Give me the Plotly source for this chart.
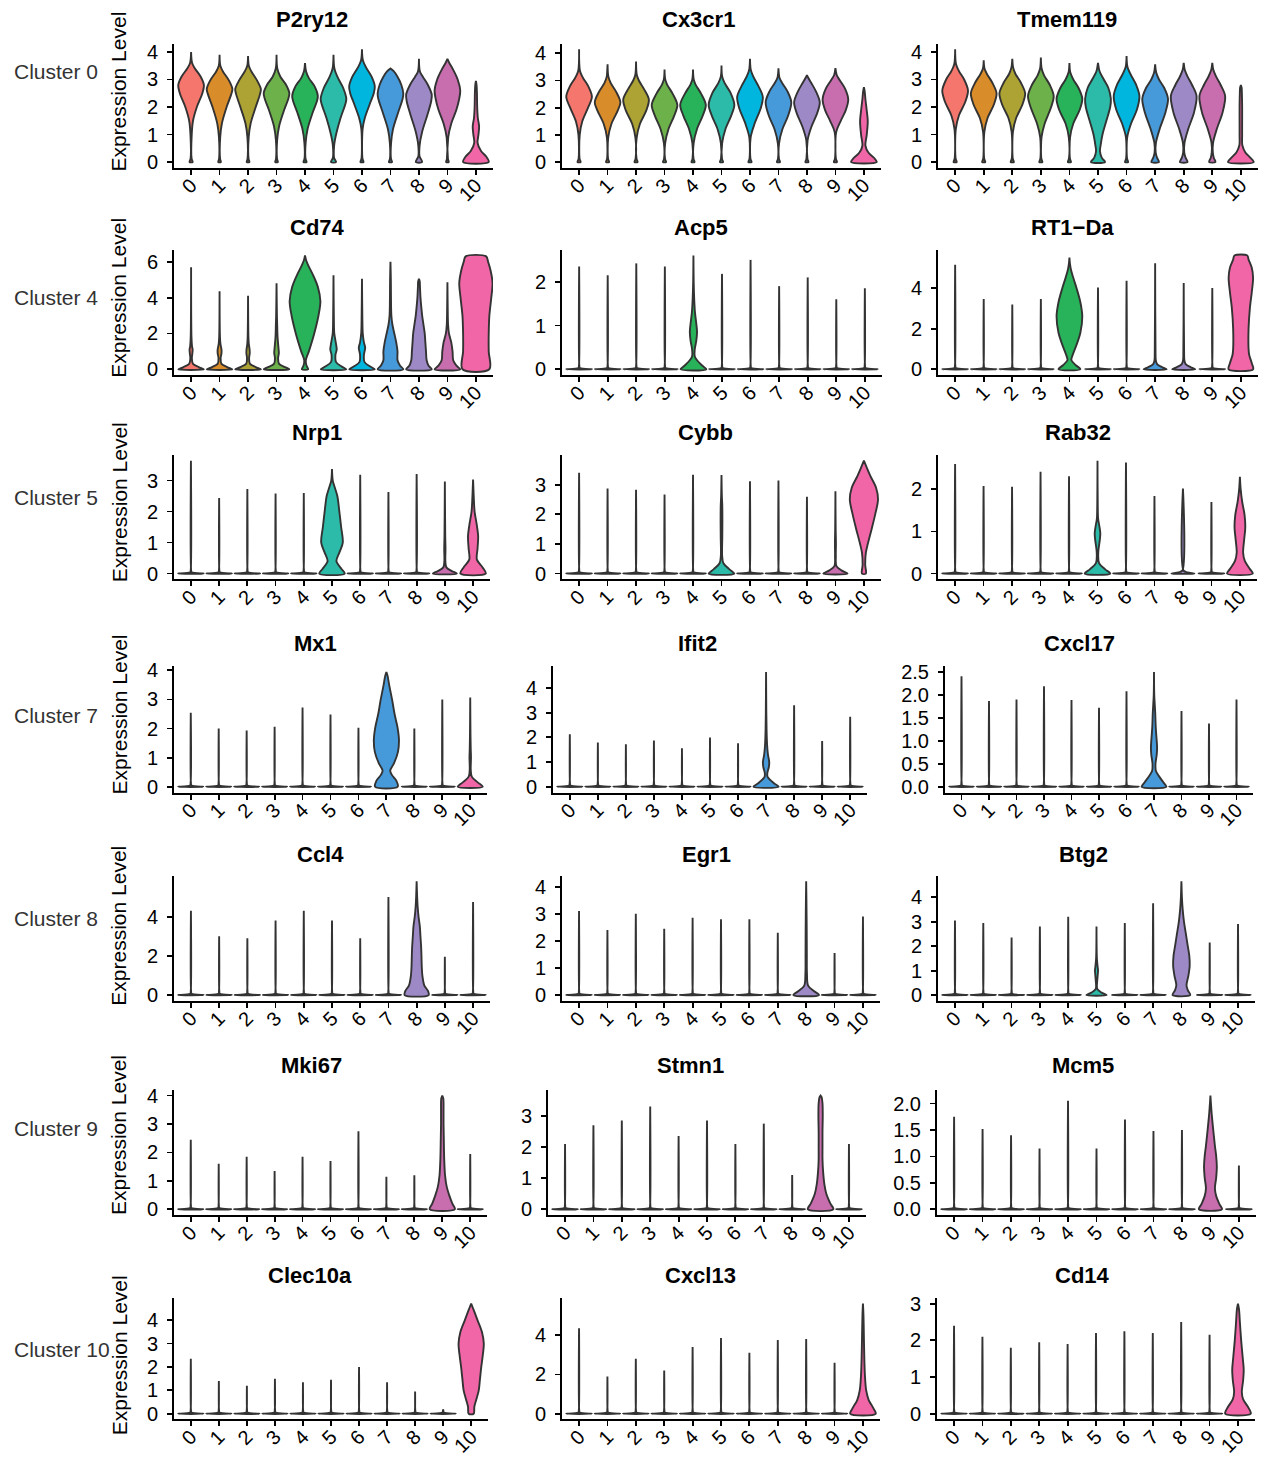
import plotly.graph_objects as go

W, H = 1262, 1458

CLUSTERS = ["0", "1", "2", "3", "4", "5", "6", "7", "8", "9", "10"]
COLORS = ["#F4766C", "#D98C2A", "#ADA334", "#6DB14A", "#28B35B", "#2BBBA8",
          "#00B6DE", "#479ADA", "#9D89C6", "#C86DAE", "#F066A6"]
ROW_LABELS = ["Cluster 0", "Cluster 4", "Cluster 5", "Cluster 7", "Cluster 8", "Cluster 9", "Cluster 10"]

# ---- per-gene data: violin tops, shaped-violin density profiles (y, relative width), tick labels ----
P2RY12_TOP = [4.0, 3.9, 3.85, 3.9, 3.6, 3.9, 4.1, 3.4, 3.75, 3.75, 2.95]
P2RY12_SHAPE = {
    0: [0, .12, .12, .04, 1.0, .05, 1.5, .15, 2.0, .45, 2.5, .88, 2.8, 1.0, 3.1, .75, 3.4, .3, 3.6, .08],
    1: [0, .1, .12, .04, 0.9, .05, 1.4, .18, 2.0, .55, 2.45, .9, 2.65, 1.0, 2.95, .75, 3.3, .25, 3.5, .06],
    2: [0, .1, .12, .04, 0.9, .05, 1.4, .2, 2.0, .6, 2.45, .92, 2.65, 1.0, 2.95, .72, 3.3, .25, 3.5, .06],
    3: [0, .1, .12, .04, 0.8, .05, 1.3, .2, 1.9, .6, 2.3, .92, 2.5, 1.0, 2.8, .75, 3.1, .3, 3.4, .06],
    4: [0, .12, .12, .04, 0.7, .05, 1.2, .2, 1.8, .6, 2.2, .92, 2.4, 1.0, 2.75, .75, 3.05, .3, 3.3, .08],
    5: [0, .2, .15, .05, 0.6, .05, 1.0, .2, 1.6, .55, 2.1, .92, 2.3, 1.0, 2.7, .75, 3.1, .3, 3.4, .07],
    6: [0, .12, .12, .04, 1.2, .05, 1.6, .22, 2.1, .6, 2.5, .92, 2.75, 1.0, 3.1, .75, 3.45, .3, 3.7, .07],
    7: [0, .12, .12, .04, 0.7, .05, 1.2, .2, 1.8, .6, 2.3, .95, 2.5, 1.0, 2.8, .85, 3.1, .55, 3.3, .25],
    8: [0, .25, .2, .05, 0.6, .05, 1.1, .25, 1.7, .65, 2.2, .95, 2.45, 1.0, 2.8, .7, 3.1, .3, 3.3, .07],
    9: [0, .1, .12, .04, 0.9, .06, 1.4, .3, 1.9, .7, 2.3, .92, 2.6, 1.0, 3.0, .8, 3.35, .45, 3.6, .15],
    10: [0, 1.0, .2, .8, .4, .4, .7, .13, 1.0, .2, 1.3, .25, 1.6, .15, 2.0, .1, 2.5, .08, 2.8, .05],
}
P2RY12_TICKS = ["0", "1", "2", "3", "4"]

CX3CR1_TOP = [4.15, 3.6, 3.7, 3.4, 3.4, 3.55, 3.8, 3.45, 3.2, 3.45, 2.75]
CX3CR1_SHAPE = {
    0: [0, .12, .12, .04, 1.0, .05, 1.5, .25, 2.0, .7, 2.4, 1.0, 2.8, .7, 3.1, .3, 3.35, .07],
    1: [0, .12, .12, .04, 0.9, .05, 1.4, .3, 1.9, .8, 2.2, 1.0, 2.6, .65, 2.9, .25, 3.15, .06],
    2: [0, .12, .12, .04, 0.9, .05, 1.4, .3, 1.9, .8, 2.3, 1.0, 2.7, .6, 3.0, .22, 3.2, .06],
    3: [0, .12, .12, .04, 0.7, .05, 1.2, .3, 1.7, .75, 2.1, 1.0, 2.5, .65, 2.85, .2, 3.05, .05],
    4: [0, .12, .12, .04, 0.7, .05, 1.2, .3, 1.7, .75, 2.1, 1.0, 2.5, .65, 2.85, .2, 3.05, .05],
    5: [0, .12, .12, .04, 0.7, .05, 1.2, .3, 1.7, .75, 2.1, 1.0, 2.55, .7, 2.9, .25, 3.15, .05],
    6: [0, .12, .12, .04, 0.9, .05, 1.4, .35, 2.0, .85, 2.4, 1.0, 2.8, .65, 3.15, .25, 3.4, .06],
    7: [0, .12, .12, .04, 0.7, .05, 1.2, .3, 1.7, .75, 2.2, 1.0, 2.6, .7, 2.9, .3, 3.1, .08],
    8: [0, .12, .12, .04, 0.8, .05, 1.3, .35, 1.8, .8, 2.2, 1.0, 2.6, .7, 2.9, .35, 3.1, .1],
    9: [0, .12, .12, .04, 1.1, .06, 1.5, .4, 1.9, .8, 2.3, 1.0, 2.7, .75, 3.0, .35, 3.2, .1],
    10: [0, 1.0, .15, .8, .35, .35, .6, .12, 1.0, .22, 1.5, .3, 1.9, .22, 2.3, .12, 2.6, .06],
}
CX3CR1_TICKS = ["0", "1", "2", "3", "4"]

TMEM119_TOP = [4.1, 3.7, 3.75, 3.8, 3.6, 3.6, 3.85, 3.55, 3.6, 3.6, 2.8]
TMEM119_SHAPE = {
    0: [0, .12, .12, .04, 1.2, .05, 1.7, .3, 2.2, .8, 2.6, 1.0, 3.0, .7, 3.3, .3, 3.55, .07],
    1: [0, .12, .12, .04, 1.1, .05, 1.6, .3, 2.1, .8, 2.5, 1.0, 2.9, .65, 3.2, .25, 3.4, .06],
    2: [0, .12, .12, .04, 1.1, .05, 1.6, .3, 2.1, .8, 2.5, 1.0, 2.9, .65, 3.2, .25, 3.45, .06],
    3: [0, .12, .12, .04, 0.9, .05, 1.4, .3, 2.0, .8, 2.4, 1.0, 2.8, .7, 3.15, .25, 3.4, .06],
    4: [0, .12, .12, .04, 0.9, .05, 1.4, .3, 1.9, .8, 2.3, 1.0, 2.7, .7, 3.0, .3, 3.25, .07],
    5: [0, .55, .15, .3, .4, .15, .6, .2, 1.0, .35, 1.5, .65, 2.0, .95, 2.3, 1.0, 2.7, .8, 3.0, .45, 3.3, .12],
    6: [0, .12, .12, .04, 0.9, .05, 1.4, .35, 1.9, .8, 2.4, 1.0, 2.8, .75, 3.2, .3, 3.45, .07],
    7: [0, .3, .15, .15, .35, .04, 0.7, .06, 1.2, .35, 1.8, .8, 2.3, 1.0, 2.7, .7, 3.0, .3, 3.25, .08],
    8: [0, .3, .15, .15, .35, .04, 0.7, .06, 1.2, .35, 1.8, .8, 2.4, 1.0, 2.8, .65, 3.1, .3, 3.35, .08],
    9: [0, .25, .15, .12, .35, .04, 0.7, .06, 1.2, .35, 1.8, .8, 2.4, 1.0, 2.8, .65, 3.1, .3, 3.35, .08],
    10: [0, 1.0, .15, .75, .35, .35, .6, .12, 1.0, .1, 1.5, .1, 2.0, .1, 2.5, .08, 2.7, .06],
}
TMEM119_TICKS = ["0", "1", "2", "3", "4"]

CD74_TOP = [5.7, 4.35, 4.1, 4.8, 6.35, 5.25, 5.05, 6.0, 5.05, 4.85, 6.3]
CD74_SHAPE = {
    0: [0, 1.0, .12, .6, .3, .15, .6, .06, .9, .1, 1.1, .12, 1.3, .07, 1.8, .03],
    1: [0, 1.0, .12, .6, .3, .15, .6, .08, .9, .15, 1.1, .15, 1.4, .07, 1.8, .03],
    2: [0, 1.0, .12, .6, .3, .15, .6, .08, .9, .13, 1.1, .12, 1.4, .06, 1.8, .03],
    3: [0, 1.0, .12, .65, .3, .2, .6, .12, .9, .18, 1.2, .15, 1.8, .08, 2.5, .05, 3.0, .03],
    4: [0, .25, .2, .12, .5, .06, 1.0, .3, 2.0, .72, 3.0, 1.05, 3.8, 1.2, 4.6, 1.0, 5.3, .6, 5.8, .25, 6.1, .08],
    5: [0, 1.0, .15, .65, .4, .2, .8, .15, 1.1, .25, 1.4, .2, 2.0, .06, 2.8, .03],
    6: [0, 1.0, .15, .65, .4, .2, .8, .15, 1.2, .25, 1.5, .15, 2.0, .06, 2.8, .03],
    7: [0, 1.0, .2, .75, .5, .55, 1.0, .55, 1.5, .45, 2.0, .3, 2.5, .15, 3.0, .07, 4.0, .04, 5.0, .03],
    8: [0, 1.0, .2, .75, .5, .6, 1.0, .55, 1.5, .5, 2.0, .45, 2.5, .35, 3.0, .25, 3.5, .18, 4.0, .12, 4.6, .08, 4.9, .06],
    9: [0, 1.0, .2, .7, .5, .45, 1.0, .4, 1.5, .3, 2.0, .12, 2.5, .05, 3.0, .03],
    10: [0, 1.05, 1.0, 1.0, 2.0, 1.0, 3.0, 1.05, 4.0, 1.2, 4.8, 1.3, 5.5, 1.15, 6.0, .95, 6.3, .8],
}
CD74_TICKS = ["0", "2", "4", "6"]

ACP5_TOP = [2.35, 2.15, 2.42, 2.35, 2.6, 2.18, 2.5, 1.9, 2.1, 1.6, 1.85]
ACP5_SHAPE = {
    4: [0, 1.0, .08, .7, .2, .3, .3, .1, .45, .1, .65, .22, .85, .28, 1.05, .22, 1.3, .12, 1.6, .06, 2.0, .02],
}
ACP5_TICKS = ["0", "1", "2"]

RT1DA_TOP = [5.14, 3.46, 3.19, 3.46, 5.5, 4.03, 4.36, 5.22, 4.25, 4.0, 5.6]
RT1DA_SHAPE = {
    4: [0, .85, .2, .5, .45, .15, .7, .25, 1.2, .55, 1.8, .85, 2.6, 1.0, 3.3, .85, 4.0, .55, 4.5, .3, 4.9, .12, 5.2, .04],
    7: [0, .9, .1, .55, .25, .15, .45, .05, .8, .03],
    8: [0, .9, .1, .55, .25, .15, .45, .05, .8, .03],
    10: [0, .95, .3, .85, .7, .65, 1.0, .6, 2.0, .6, 3.0, .7, 3.8, .85, 4.5, .95, 5.0, .85, 5.4, .6, 5.6, .5],
}
RT1DA_TICKS = ["0", "2", "4"]

NRP1_TOP = [3.64, 2.44, 2.73, 2.58, 2.6, 3.37, 3.19, 2.63, 3.21, 2.97, 3.03]
NRP1_SHAPE = {
    5: [0, 1.0, .15, .75, .4, .35, .7, .6, 1.0, .85, 1.5, .72, 2.0, .58, 2.5, .42, 2.8, .2, 3.0, .06],
    9: [0, .95, .08, .55, .2, .12, .4, .04, .8, .05, 1.2, .03],
    10: [0, 1.0, .2, .75, .45, .3, .8, .35, 1.2, .4, 1.6, .28, 2.0, .12, 2.5, .05],
}
NRP1_TICKS = ["0", "1", "2", "3"]

CYBB_TOP = [3.4, 2.87, 2.83, 2.67, 3.34, 3.33, 3.12, 3.14, 2.59, 2.78, 3.81]
CYBB_SHAPE = {
    5: [0, 1.0, .15, .6, .35, .15, .6, .05, 1.2, .06, 1.8, .07, 2.3, .06, 2.6, .03],
    9: [0, .95, .1, .5, .25, .08, .6, .03, 1.0, .04, 1.5, .02],
    10: [0, .15, .3, .1, .7, .15, 1.0, .3, 1.5, .6, 2.0, .88, 2.5, 1.1, 2.9, .95, 3.3, .5, 3.6, .2],
}
CYBB_TICKS = ["0", "1", "2", "3"]

RAB32_TOP = [2.6, 2.08, 2.06, 2.42, 2.31, 2.68, 2.64, 1.84, 2.02, 1.70, 2.30]
RAB32_SHAPE = {
    5: [0, 1.0, .1, .6, .25, .12, .5, .06, .8, .18, .95, .22, 1.1, .16, 1.3, .05, 1.6, .02],
    8: [0, .9, .03, .35, .07, .05],
    10: [0, 1.0, .1, .8, .3, .38, .5, .25, .8, .33, 1.1, .42, 1.4, .36, 1.7, .18, 2.0, .06],
}
RAB32_TICKS = ["0", "1", "2"]

MX1_TOP = [2.54, 2.0, 1.93, 2.06, 2.72, 2.48, 2.03, 3.94, 2.0, 3.0, 3.07]
MX1_SHAPE = {
    7: [0, .9, .2, .8, .4, .45, .55, .3, .8, .6, 1.2, .92, 1.6, 1.0, 2.0, .9, 2.5, .65, 3.0, .45, 3.5, .22, 3.8, .1],
    10: [0, 1.0, .15, .6, .35, .12, .6, .04, 1.0, .06, 1.3, .04, 1.8, .02],
}
MX1_TICKS = ["0", "1", "2", "3", "4"]

IFIT2_TOP = [2.12, 1.79, 1.72, 1.87, 1.56, 1.99, 1.76, 4.64, 3.3, 1.85, 2.83]
IFIT2_SHAPE = {
    7: [0, 1.0, .15, .6, .4, .12, .55, .1, .8, .22, 1.0, .25, 1.3, .15, 1.7, .08, 2.3, .04, 3.0, .02],
}
IFIT2_TICKS = ["0", "1", "2", "3", "4"]

CXCL17_TOP = [2.41, 1.87, 1.9, 2.19, 1.89, 1.72, 2.08, 2.5, 1.65, 1.38, 1.9]
CXCL17_SHAPE = {
    7: [0, 1.0, .1, .75, .25, .35, .35, .15, .5, .12, .7, .22, .85, .25, 1.0, .22, 1.3, .14, 1.6, .1, 1.8, .06, 2.0, .02],
}
CXCL17_TICKS = ["0.0", "0.5", "1.0", "1.5", "2.0", "2.5"]

CCL4_TOP = [4.3, 3.0, 2.9, 3.8, 4.3, 3.8, 2.9, 5.0, 5.8, 1.95, 4.75]
CCL4_SHAPE = {
    8: [0, .95, .2, .9, .5, .6, 1.0, .45, 1.5, .4, 2.0, .38, 2.5, .35, 3.0, .3, 3.5, .25, 4.0, .15, 4.5, .08, 5.0, .04],
}
CCL4_TICKS = ["0", "2", "4"]

EGR1_TOP = [3.1, 2.4, 3.0, 2.45, 2.85, 2.8, 2.8, 2.3, 4.2, 1.55, 2.9]
EGR1_SHAPE = {
    8: [0, 1.0, .15, .6, .35, .15, .8, .06, 1.5, .05, 2.5, .04, 3.5, .02],
}
EGR1_TICKS = ["0", "1", "2", "3", "4"]

BTG2_TOP = [3.05, 2.95, 2.35, 2.8, 3.2, 2.8, 2.95, 3.75, 4.65, 2.15, 2.9]
BTG2_SHAPE = {
    5: [0, .8, .1, .4, .25, .06, .6, .06, .85, .1, 1.0, .12, 1.2, .08, 1.5, .03],
    8: [0, .7, .2, .5, .4, .4, .8, .55, 1.2, .65, 1.6, .62, 2.0, .5, 2.5, .35, 3.0, .2, 3.5, .1, 4.0, .04],
}
BTG2_TICKS = ["0", "1", "2", "3", "4"]

MKI67_TOP = [2.45, 1.6, 1.85, 1.35, 1.85, 1.7, 2.75, 1.15, 1.2, 4.0, 1.95]
MKI67_SHAPE = {
    9: [0, 1.0, .2, .8, .5, .55, .8, .35, 1.2, .22, 1.8, .15, 2.5, .12, 3.0, .1, 3.5, .1, 3.9, .08],
}
MKI67_TICKS = ["0", "1", "2", "3", "4"]

STMN1_TOP = [2.1, 2.7, 2.85, 3.3, 2.35, 2.85, 2.1, 2.75, 1.1, 3.65, 2.1]
STMN1_SHAPE = {
    9: [0, 1.0, .2, .75, .5, .45, .8, .3, 1.2, .2, 1.6, .15, 2.0, .15, 2.5, .15, 3.0, .17, 3.4, .15, 3.6, .08],
}
STMN1_TICKS = ["0", "1", "2", "3"]

MCM5_TOP = [1.75, 1.52, 1.4, 1.15, 2.05, 1.15, 1.7, 1.48, 1.5, 2.15, 0.83]
MCM5_SHAPE = {
    9: [0, .9, .1, .7, .25, .45, .4, .35, .6, .45, .8, .5, 1.0, .45, 1.2, .35, 1.5, .22, 1.8, .1, 2.0, .04],
}
MCM5_TICKS = ["0.0", "0.5", "1.0", "1.5", "2.0"]

CLEC10A_TOP = [2.35, 1.4, 1.2, 1.5, 1.35, 1.45, 2.0, 1.35, 0.95, 0.02, 4.7]
CLEC10A_SHAPE = {
    10: [0, .2, .3, .25, .6, .4, 1.0, .6, 1.5, .7, 2.0, .8, 2.5, .92, 3.0, 1.0, 3.5, .85, 4.0, .5, 4.4, .22],
}
CLEC10A_TICKS = ["0", "1", "2", "3", "4"]

CXCL13_TOP = [4.35, 1.9, 2.8, 2.2, 3.4, 3.85, 3.1, 3.75, 3.8, 2.6, 5.6]
CXCL13_SHAPE = {
    10: [0, 1.0, .3, .8, .7, .45, 1.2, .25, 2.0, .15, 3.0, .1, 4.0, .07, 5.0, .04],
}
CXCL13_TICKS = ["0", "2", "4"]

CD14_TOP = [2.4, 2.1, 1.8, 1.95, 1.9, 2.2, 2.25, 2.2, 2.5, 2.15, 3.0]
CD14_SHAPE = {
    10: [0, 1.0, .15, .85, .4, .4, .6, .3, .9, .4, 1.2, .45, 1.5, .38, 2.0, .25, 2.5, .15, 2.85, .08],
}
CD14_TICKS = ["0", "1", "2", "3"]

PANELS = [
    [("P2ry12", P2RY12_TOP, P2RY12_SHAPE, P2RY12_TICKS),
     ("Cx3cr1", CX3CR1_TOP, CX3CR1_SHAPE, CX3CR1_TICKS),
     ("Tmem119", TMEM119_TOP, TMEM119_SHAPE, TMEM119_TICKS)],
    [("Cd74", CD74_TOP, CD74_SHAPE, CD74_TICKS),
     ("Acp5", ACP5_TOP, ACP5_SHAPE, ACP5_TICKS),
     ("RT1\u2212Da", RT1DA_TOP, RT1DA_SHAPE, RT1DA_TICKS)],
    [("Nrp1", NRP1_TOP, NRP1_SHAPE, NRP1_TICKS),
     ("Cybb", CYBB_TOP, CYBB_SHAPE, CYBB_TICKS),
     ("Rab32", RAB32_TOP, RAB32_SHAPE, RAB32_TICKS)],
    [("Mx1", MX1_TOP, MX1_SHAPE, MX1_TICKS),
     ("Ifit2", IFIT2_TOP, IFIT2_SHAPE, IFIT2_TICKS),
     ("Cxcl17", CXCL17_TOP, CXCL17_SHAPE, CXCL17_TICKS)],
    [("Ccl4", CCL4_TOP, CCL4_SHAPE, CCL4_TICKS),
     ("Egr1", EGR1_TOP, EGR1_SHAPE, EGR1_TICKS),
     ("Btg2", BTG2_TOP, BTG2_SHAPE, BTG2_TICKS)],
    [("Mki67", MKI67_TOP, MKI67_SHAPE, MKI67_TICKS),
     ("Stmn1", STMN1_TOP, STMN1_SHAPE, STMN1_TICKS),
     ("Mcm5", MCM5_TOP, MCM5_SHAPE, MCM5_TICKS)],
    [("Clec10a", CLEC10A_TOP, CLEC10A_SHAPE, CLEC10A_TICKS),
     ("Cxcl13", CXCL13_TOP, CXCL13_SHAPE, CXCL13_TICKS),
     ("Cd14", CD14_TOP, CD14_SHAPE, CD14_TICKS)],
]

# ---- layout geometry (target pixels in the photographed picture) ----
ROW_TOP = [42, 248, 453, 664, 873, 1087, 1295]
ROW_BOTTOM = [166, 373, 577, 790, 998, 1212, 1416]
COL_X = [
    [(174, 493), (562, 881), (938, 1258)],
    [(174, 493), (562, 882), (938, 1258)],
    [(174, 490), (562, 881), (938, 1257)],
    [(174, 487), (553, 867), (945, 1253)],
    [(174, 490), (562, 880), (938, 1255)],
    [(174, 487), (548, 866), (937, 1256)],
    [(174, 488), (562, 880), (937, 1255)],
]
TITLE_X = [
    [312, 698, 1067], [317, 701, 1072], [317, 705, 1078], [315, 697, 1079],
    [320, 706, 1083], [311, 690, 1083], [310, 700, 1082],
]
TITLE_Y = [18, 226, 430, 641, 852, 1063, 1272]
LABEL_Y = [70, 296, 495, 713, 916, 1126, 1346]
YTITLE_Y = [90, 296, 500, 712, 923, 1132, 1352]

# the photographed page comes out a little squeezed vertically (measured: out = 5.5 + 0.9905 * page)
SNAP_OFFSET, SNAP_SCALE = 5.5, 0.9905


def fx(px):
    return px / W


def fy(py):
    return 1 - ((py - SNAP_OFFSET) / SNAP_SCALE) / H


FONT = "Liberation Sans, Arial, sans-serif"
HALF = 0.45

fig = go.Figure()
layout = dict(
    width=W, height=H, margin=dict(l=0, r=0, t=0, b=0),
    paper_bgcolor="white", plot_bgcolor="white", showlegend=False,
    font=dict(family=FONT, color="black"),
)
annotations = []

k = 0
for r, row in enumerate(PANELS):
    for c, (gene, tops, shapes, ticks) in enumerate(row):
        k += 1
        xname = "x" if k == 1 else f"x{k}"
        yname = "y" if k == 1 else f"y{k}"
        m = max(tops)
        for i, top in enumerate(tops):
            knots = list(shapes.get(i, [0, 1.0, 0.012 * m, 0.05, 0.035 * m, 0.012]))
            ys = knots[0::2]
            ws = knots[1::2]
            if ys[-1] < top:
                ys.append(top)
                ws.append(0.0)
            xs = [i - HALF * w for w in ws] + [i + HALF * w for w in ws[::-1]] + [i - HALF * ws[0]]
            yy = ys + ys[::-1] + [ys[0]]
            fig.add_trace(go.Scatter(
                x=xs, y=yy, xaxis=xname, yaxis=yname, mode="lines",
                line=dict(color="#333333", width=1.9, shape="spline", smoothing=0.9),
                fill="toself", fillcolor=COLORS[i], hoverinfo="skip",
            ))
        x0, x1 = COL_X[r][c]
        axis_common = dict(
            showline=True, linecolor="black", linewidth=2, ticks="outside",
            ticklen=5, tickwidth=1.8, tickcolor="black", showgrid=False, zeroline=False,
            tickfont=dict(family=FONT, size=20, color="black"), fixedrange=True,
        )
        layout["xaxis" if k == 1 else f"xaxis{k}"] = dict(
            domain=[fx(x0), fx(x1)], anchor=yname, range=[-0.6, 10.6],
            tickmode="array", tickvals=list(range(len(CLUSTERS))), ticktext=CLUSTERS,
            tickangle=-45, ticklabelstandoff=-9, **axis_common,
        )
        layout["yaxis" if k == 1 else f"yaxis{k}"] = dict(
            domain=[fy(ROW_BOTTOM[r]), fy(ROW_TOP[r])], anchor=xname,
            range=[-0.05 * m, 1.05 * m], tickmode="array",
            tickvals=[float(t) for t in ticks], ticktext=ticks,
            ticklabelstandoff=5, **axis_common,
        )
        annotations.append(dict(
            text=f"<b>{gene}</b>", x=fx(TITLE_X[r][c]), y=fy(TITLE_Y[r]),
            xref="paper", yref="paper", xanchor="center", yanchor="middle",
            showarrow=False, font=dict(family=FONT, size=22, color="black"),
        ))
    annotations.append(dict(
        text=ROW_LABELS[r], x=fx(12), y=fy(LABEL_Y[r]), xref="paper", yref="paper",
        xanchor="left", yanchor="middle", showarrow=False,
        font=dict(family=FONT, size=21, color="#333333"),
    ))
    annotations.append(dict(
        text="Expression Level", x=fx(119), y=fy(YTITLE_Y[r]), xref="paper", yref="paper",
        xanchor="center", yanchor="middle", textangle=-90, showarrow=False,
        font=dict(family=FONT, size=21, color="black"),
    ))

layout["annotations"] = annotations
fig.update_layout(**layout)

PAGE_CSS = (
    "document.documentElement.style.margin='0';"
    "document.documentElement.style.overflow='hidden';"
    "document.body.style.margin='0';"
    "document.body.style.padding='0';"
    "document.body.style.overflow='hidden';"
)

fig.write_html("out.html", config={"displayModeBar": False, "staticPlot": True},
               post_script=PAGE_CSS)
